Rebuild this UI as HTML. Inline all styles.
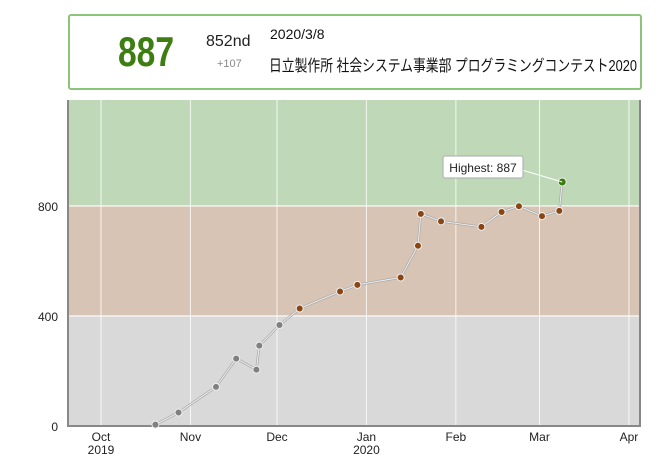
<!DOCTYPE html>
<html><head><meta charset="utf-8"><style>
body{margin:0;width:662px;height:460px;background:#fff;font-family:"Liberation Sans","Noto Sans CJK JP",sans-serif;overflow:hidden}
#top{position:absolute;left:68px;top:14px;width:570px;height:72px;border:2px solid #8cc47a;border-radius:3px}
.t{position:absolute;white-space:nowrap}
</style></head><body>
<div id="top">
<div class="t" style="left:48px;top:12px;font-size:42px;font-weight:bold;color:#3e7d12;transform:scaleX(0.8);transform-origin:left">887</div>
<div class="t" style="left:136px;top:17px;font-size:16px;color:#222">852nd</div>
<div class="t" style="left:147px;top:42px;font-size:11px;color:#888">+107</div>
<div class="t" style="left:200px;top:10px;font-size:14px;color:#111">2020/3/8</div>
<div class="t" id="title" style="left:199px;top:36px;font-size:16px;color:#111;transform-origin:left">日立製作所 社会システム事業部 プログラミングコンテスト2020</div>
</div>
<svg id="chart" width="662" height="460" style="position:absolute;left:0;top:0"></svg>
<script>
const dates=["2019-10-19","2019-10-27","2019-11-09","2019-11-16","2019-11-23","2019-11-24","2019-12-01","2019-12-08","2019-12-22","2019-12-28","2020-01-12","2020-01-18","2020-01-19","2020-01-26","2020-02-09","2020-02-16","2020-02-22","2020-03-01","2020-03-07","2020-03-08"];
const ratings=[5,49,142,245,205,292,367,427,489,513,540,655,771,744,724,778,799,763,782,887];
const yTicks=[0,400,800];
const monthTicks=["2019-10-01","2019-11-01","2019-12-01","2020-01-01","2020-02-01","2020-03-01","2020-04-01"];
const monthLabels=["Oct","Nov","Dec","Jan","Feb","Mar","Apr"];
const yearLabels=["2019","","","2020","","",""];
const ti=document.getElementById('title');
ti.style.transform='scaleX('+(368/ti.getBoundingClientRect().width)+')';
const L=68,R=640,T=100,B=426,YMAX=1185;
const t0=Date.UTC(2019,9,1);
function days(s){const p=s.split('-');return (Date.UTC(+p[0],p[1]-1,+p[2])-t0)/864e5;}
const X=s=>101+days(s)*2.885;
const XP=s=>X(s)+2.5;
const Y=v=>B-(v/YMAX)*(B-T);
const svg=document.getElementById('chart'),NS='http://www.w3.org/2000/svg';
function mk(tag,at,parent){const e=document.createElementNS(NS,tag);for(const k in at)e.setAttribute(k,at[k]);(parent||svg).appendChild(e);return e;}
let e;
e=mk('rect',{x:L,y:T,width:R-L,height:Y(800)-T,fill:'#bfd9b8'});


e=mk('rect',{x:L,y:Y(800),width:R-L,height:Y(400)-Y(800),fill:'#d8c4b4'});


e=mk('rect',{x:L,y:Y(400),width:R-L,height:B-Y(400),fill:'#d9d9d9'});


yTicks.forEach(v=>{
 if(v>0){e=mk('line',{x1:L,x2:R,y1:Y(v),y2:Y(v),stroke:'#fff','stroke-width':1.2});
 
 }
 e=mk('text',{x:58,y:Y(v)+5,'text-anchor':'end','font-size':12,fill:'#222'});e.textContent=v;
 
 
});
monthTicks.forEach((m,i)=>{
 const x=X(m);
 e=mk('line',{x1:x,x2:x,y1:T,y2:B,stroke:'#fff','stroke-width':1,opacity:0.8});
 
 
 e=mk('text',{x:x,y:441,'text-anchor':'middle','font-size':12,fill:'#222'});e.textContent=monthLabels[i];
 
 
 if(yearLabels[i]){e=mk('text',{x:x,y:454,'text-anchor':'middle','font-size':12,fill:'#222'});e.textContent=yearLabels[i];
 
 }
});
e=mk('path',{d:`M${L},${T} V${B} H${R} V${T}`,fill:'none',stroke:'#888','stroke-width':2});


const pts=dates.map((d,i)=>[XP(d),Y(ratings[i])]);
e=mk('polyline',{points:pts.map(p=>p.join(',')).join(' '),fill:'none',stroke:'#aaa','stroke-width':2.5});


e=mk('polyline',{points:pts.map(p=>p.join(',')).join(' '),fill:'none',stroke:'#eee','stroke-width':1});
pts.forEach((p,i)=>{
 const r=ratings[i];const c=r>=800?'#3a7d0e':r>=400?'#8b4513':'#808080';
 e=mk('circle',{cx:p[0],cy:p[1],r:i==pts.length-1?4:3.5,fill:c,stroke:'#eee','stroke-width':1});
 
 
});
const hp=pts[pts.length-1];
e=mk('line',{x1:522,y1:170,x2:hp[0],y2:hp[1],stroke:'#fff','stroke-width':1});


e=mk('rect',{x:443,y:156,width:80,height:22,rx:2,fill:'#fff',stroke:'#aaa','stroke-width':1});


e=mk('text',{x:483,y:172,'text-anchor':'middle','font-size':12,fill:'#222'});e.textContent='Highest: '+Math.max(...ratings);


</script>
</body></html>
